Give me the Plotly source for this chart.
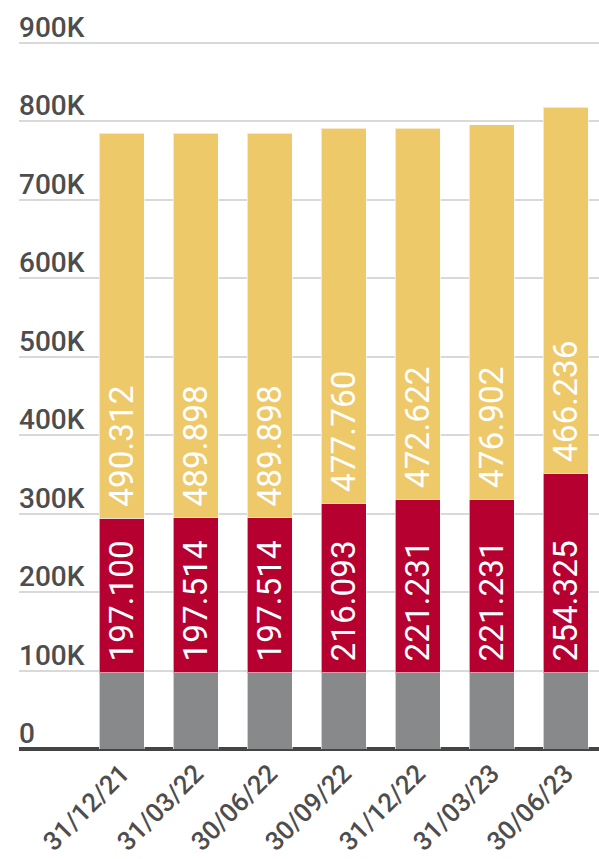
import plotly.graph_objects as go

categories = ["31/12/21", "31/03/22", "30/06/22", "30/09/22", "31/12/22", "31/03/23", "30/06/23"]
gray_values = [97000, 97000, 97000, 97000, 97000, 97000, 97000]
red_values = [197100, 197514, 197514, 216093, 221231, 221231, 254325]
yellow_values = [490312, 489898, 489898, 477760, 472622, 476902, 466236]
y_tick_values = [0, 100000, 200000, 300000, 400000, 500000, 600000, 700000, 800000, 900000]
y_tick_labels = ["0", "100K", "200K", "300K", "400K", "500K", "600K", "700K", "800K", "900K"]


def fmt(v):
    return "&nbsp;" + f"{v:,}".replace(",", ".")


x = list(range(len(categories)))
fig = go.Figure()
bar_common = dict(width=0.61, marker_line=dict(color="rgba(255,255,255,0.6)", width=1))
label_font = dict(color="white", size=35, family="Roboto")
fig.add_trace(go.Bar(x=x, y=gray_values, marker_color="#88898b", **bar_common))
fig.add_trace(go.Bar(x=x, y=red_values, marker_color="#b50030",
                     text=[fmt(v) for v in red_values], textposition="inside",
                     insidetextanchor="start", textangle=-90,
                     textfont=label_font, **bar_common))
fig.add_trace(go.Bar(x=x, y=yellow_values, marker_color="#eec96a",
                     text=[fmt(v) for v in yellow_values], textposition="inside",
                     insidetextanchor="start", textangle=-90,
                     textfont=label_font, **bar_common))

for v, t in zip(y_tick_values, y_tick_labels):
    fig.add_annotation(xref="paper", x=0, xanchor="left", yref="y", y=v, yanchor="bottom",
                       text=t, showarrow=False, yshift=-3, xshift=-2,
                       font=dict(size=28, color="#4d4d4d", family="Roboto", weight=500))

fig.update_layout(
    barmode="stack",
    width=599, height=859,
    margin=dict(l=19, r=0, t=41, b=110),
    paper_bgcolor="white", plot_bgcolor="white",
    showlegend=False,
    uniformtext=dict(mode=False),
    font=dict(family="Roboto", color="#4d4d4d"),
    xaxis=dict(
        tickmode="array", tickvals=x, ticktext=categories, automargin=False,
        tickangle=-45, tickfont=dict(size=26, color="#4d4d4d", weight=500),
        range=[-1.39, 6.45], showgrid=False, zeroline=False,
        showline=False, ticks="", ticklabelstandoff=3,
    ),
    yaxis=dict(
        range=[0, 902000], tickmode="array", tickvals=y_tick_values, showticklabels=False,
        automargin=False,
        showgrid=True, gridcolor="#d9d9d9", gridwidth=2,
        zeroline=True, zerolinecolor="#444444", zerolinewidth=4,
        showline=False, ticks="",
    ),
)
fig.write_html("out.html", config={"displayModeBar": False},
               post_script="document.body.style.margin='0';")
